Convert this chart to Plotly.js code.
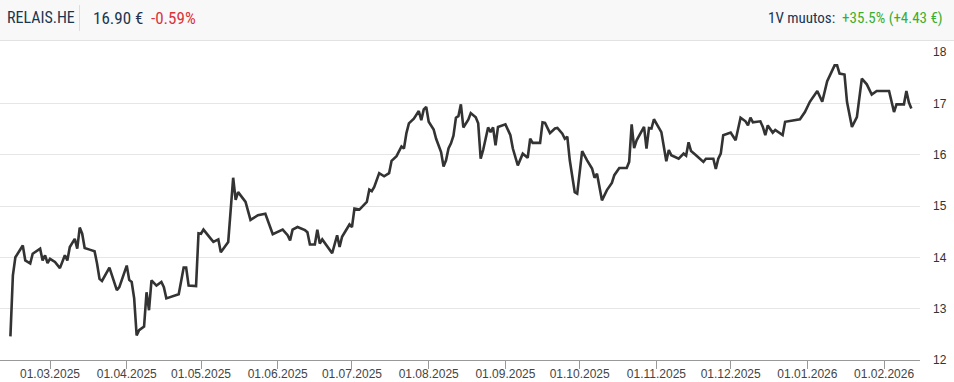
<!DOCTYPE html>
<html>
<head>
<meta charset="utf-8">
<script src="https://cdn.plot.ly/plotly-3.0.1.min.js"></script>
<style>
html,body{margin:0;padding:0;background:#fff;}
#chart{width:954px;height:382px;}
</style>
</head>
<body>
<div id="chart"></div>
<script>
// ---- data ----
const dates = [
"2025-02-13","2025-02-14","2025-02-15","2025-02-16","2025-02-18","2025-02-19","2025-02-21","2025-02-22",
"2025-02-25","2025-02-26","2025-02-27","2025-02-28","2025-03-01","2025-03-03","2025-03-05","2025-03-07",
"2025-03-08","2025-03-09","2025-03-11","2025-03-12","2025-03-13","2025-03-14","2025-03-15","2025-03-17",
"2025-03-19","2025-03-20","2025-03-21","2025-03-22","2025-03-24","2025-03-25","2025-03-28","2025-03-29",
"2025-04-01","2025-04-02","2025-04-03","2025-04-04","2025-04-05","2025-04-06","2025-04-08","2025-04-09",
"2025-04-10","2025-04-11","2025-04-13","2025-04-15","2025-04-16","2025-04-17","2025-04-22","2025-04-24",
"2025-04-25","2025-04-26","2025-04-29","2025-04-30","2025-05-01","2025-05-02","2025-05-05","2025-05-06",
"2025-05-08","2025-05-09","2025-05-12","2025-05-13","2025-05-14","2025-05-15","2025-05-16","2025-05-19",
"2025-05-21","2025-05-24","2025-05-27","2025-05-30","2025-06-03","2025-06-05","2025-06-06","2025-06-07",
"2025-06-09","2025-06-12","2025-06-13","2025-06-14","2025-06-16","2025-06-17","2025-06-18","2025-06-19",
"2025-06-23","2025-06-25","2025-06-26","2025-06-27","2025-06-30","2025-07-01","2025-07-02","2025-07-04",
"2025-07-05","2025-07-07","2025-07-08","2025-07-09","2025-07-10","2025-07-12","2025-07-14","2025-07-16",
"2025-07-17","2025-07-19","2025-07-21","2025-07-22","2025-07-23","2025-07-24","2025-07-26","2025-07-28",
"2025-07-29","2025-07-30","2025-07-31","2025-08-01","2025-08-03","2025-08-04","2025-08-06","2025-08-07",
"2025-08-08","2025-08-09","2025-08-10","2025-08-11","2025-08-12","2025-08-13","2025-08-14","2025-08-15",
"2025-08-17","2025-08-18","2025-08-20","2025-08-21","2025-08-22","2025-08-23","2025-08-25","2025-08-26",
"2025-08-27","2025-08-28","2025-08-29","2025-09-01","2025-09-03","2025-09-04","2025-09-06","2025-09-07",
"2025-09-08","2025-09-10","2025-09-11","2025-09-12","2025-09-15","2025-09-16","2025-09-17","2025-09-19",
"2025-09-21","2025-09-22","2025-09-24","2025-09-25","2025-09-26","2025-09-27","2025-09-28","2025-09-29",
"2025-09-30","2025-10-02","2025-10-04","2025-10-06","2025-10-07","2025-10-08","2025-10-10","2025-10-12",
"2025-10-14","2025-10-15","2025-10-17","2025-10-20","2025-10-21","2025-10-22","2025-10-23","2025-10-24",
"2025-10-27","2025-10-28","2025-10-29","2025-10-30","2025-10-31","2025-11-03","2025-11-05","2025-11-06",
"2025-11-07","2025-11-10","2025-11-12","2025-11-13","2025-11-14","2025-11-15","2025-11-17","2025-11-20",
"2025-11-21","2025-11-24","2025-11-25","2025-11-26","2025-11-27","2025-11-28","2025-12-01","2025-12-03",
"2025-12-05","2025-12-07","2025-12-08","2025-12-09","2025-12-10","2025-12-12","2025-12-13","2025-12-14",
"2025-12-15","2025-12-16","2025-12-18","2025-12-19","2025-12-22","2025-12-23","2025-12-29","2025-12-31",
"2026-01-02","2026-01-05","2026-01-07","2026-01-09","2026-01-12","2026-01-13","2026-01-14","2026-01-16",
"2026-01-17","2026-01-19","2026-01-21","2026-01-23","2026-01-25","2026-01-27","2026-01-29","2026-02-03",
"2026-02-05","2026-02-06","2026-02-09","2026-02-10","2026-02-11","2026-02-12"
];
const prices = [
12.46,13.65,14.00,14.07,14.23,13.94,13.88,14.07,
14.17,13.94,14.04,13.89,13.97,13.91,13.79,14.04,
13.94,14.20,14.36,14.17,14.58,14.46,14.18,14.15,
14.12,13.88,13.58,13.54,13.71,13.80,13.36,13.42,
13.84,13.56,13.52,13.20,12.48,12.58,12.65,13.32,
12.97,13.55,13.45,13.52,13.42,13.20,13.28,13.80,
13.80,13.45,13.44,14.47,14.46,14.54,14.36,14.30,
14.35,14.10,14.30,14.92,15.55,15.12,15.27,15.08,
14.73,14.82,14.85,14.45,14.54,14.43,14.33,14.54,
14.59,14.53,14.49,14.25,14.25,14.54,14.27,14.35,
14.08,14.43,14.20,14.40,14.64,14.59,14.95,14.93,
14.98,15.08,15.32,15.29,15.37,15.64,15.58,15.64,
15.88,15.97,16.16,16.12,16.42,16.61,16.70,16.85,
16.67,16.88,16.93,16.64,16.49,16.31,16.05,15.77,
15.89,16.12,16.22,16.37,16.72,16.75,16.98,16.53,
16.68,16.81,16.73,16.61,15.92,16.09,16.53,16.44,
16.53,16.18,16.54,16.59,16.38,16.12,15.79,15.89,
16.02,15.94,16.31,16.23,16.23,16.63,16.62,16.42,
16.51,16.52,16.41,16.31,16.35,15.89,15.60,15.27,
15.24,16.07,15.89,15.73,15.55,15.63,15.11,15.31,
15.45,15.60,15.74,15.74,15.86,16.59,16.13,16.28,
16.54,16.12,16.52,16.51,16.69,16.44,15.87,16.09,
15.99,15.92,16.02,15.98,16.24,16.07,15.99,15.86,
15.92,15.92,15.72,15.92,16.02,16.38,16.43,16.28,
16.72,16.65,16.57,16.72,16.63,16.64,16.65,16.54,
16.38,16.57,16.43,16.48,16.38,16.64,16.69,16.83,
17.03,17.24,17.03,17.43,17.74,17.74,17.58,17.56,
17.03,16.54,16.73,17.48,17.37,17.17,17.24,17.24,
16.83,16.98,16.98,17.24,17.02,16.90
];
const symbol = "RELAIS.HE";
const lastPrice = "16.90 €";
const dayChange = "-0.59%";
const periodLabel = "1V muutos:";
const periodChange = "+35.5% (+4.43 €)";
const xRange = ["2025-02-08 19:00", "2026-02-15 12:00"];
const yRange = [12, 18];
const yTicks = [12, 13, 14, 15, 16, 17, 18];

// ---- layout geometry (pixels) ----
const W = 954, H = 382, ML = 0, MR = 34, MT = 52, MB = 22;
const PW = W - ML - MR, PH = H - MT - MB;
const px = x => (x - ML) / PW;
const py = y => (H - MB - y) / PH;

const headFont = '"Liberation Sans Narrow", "Roboto Condensed", "DejaVu Sans Condensed", sans-serif';
const navy = '#1b3552';

const trace = {
  x: dates, y: prices, type: 'scatter', mode: 'lines',
  line: {color: '#333333', width: 2.6, shape: 'linear'},
  hoverinfo: 'skip'
};

const layout = {
  width: W, height: H,
  margin: {l: ML, r: MR, t: MT, b: MB, pad: 0},
  paper_bgcolor: '#ffffff', plot_bgcolor: '#ffffff',
  showlegend: false,
  font: {family: '"Liberation Sans", Arial, sans-serif', size: 12, color: '#444'},
  xaxis: {
    type: 'date', range: xRange,
    tick0: '2025-03-01', dtick: 'M1', tickformat: '%d.%m.%Y',
    ticks: 'outside', ticklen: 8, tickcolor: '#999', tickwidth: 1,
    ticklabelstandoff: -5,
    showline: true, linecolor: '#999', linewidth: 1,
    showgrid: false, zeroline: false,
    tickfont: {size: 12, color: '#444'}
  },
  yaxis: {
    range: yRange, side: 'right', tickvals: yTicks,
    ticks: '', showline: false, zeroline: false,
    showgrid: true, gridcolor: '#e6e6e6', gridwidth: 1,
    ticklabelstandoff: 12,
    tickfont: {size: 12, color: '#333'}
  },
  shapes: [
    {type: 'rect', xref: 'paper', yref: 'paper', x0: px(0), x1: px(W), y0: py(40), y1: py(0),
     fillcolor: '#f8f8f8', line: {width: 0}, layer: 'below'},
    {type: 'line', xref: 'paper', yref: 'paper', x0: px(0), x1: px(W), y0: py(40.5), y1: py(40.5),
     line: {color: '#e2e2e2', width: 1}},
    {type: 'line', xref: 'paper', yref: 'paper', x0: px(79.5), x1: px(79.5), y0: py(5), y1: py(31),
     line: {color: '#dddddd', width: 1}}
  ],
  annotations: [
    {text: symbol, xref: 'paper', yref: 'paper', x: px(5), y: py(18), xanchor: 'left', yanchor: 'middle',
     showarrow: false, font: {family: headFont, size: 16, color: navy}},
    {text: lastPrice, xref: 'paper', yref: 'paper', x: px(91), y: py(18), xanchor: 'left', yanchor: 'middle',
     showarrow: false, font: {family: headFont, size: 17, color: navy}},
    {text: dayChange, xref: 'paper', yref: 'paper', x: px(149), y: py(18), xanchor: 'left', yanchor: 'middle',
     showarrow: false, font: {family: headFont, size: 17, color: '#d9343b'}},
    {text: periodLabel + '  <span style="color:#3aae2f">' + periodChange + '</span>',
     xref: 'paper', yref: 'paper', x: px(945), y: py(18), xanchor: 'right', yanchor: 'middle',
     showarrow: false, font: {family: headFont, size: 15, color: navy}}
  ]
};

Plotly.newPlot('chart', [trace], layout, {displayModeBar: false, staticPlot: true});
</script>
</body>
</html>
